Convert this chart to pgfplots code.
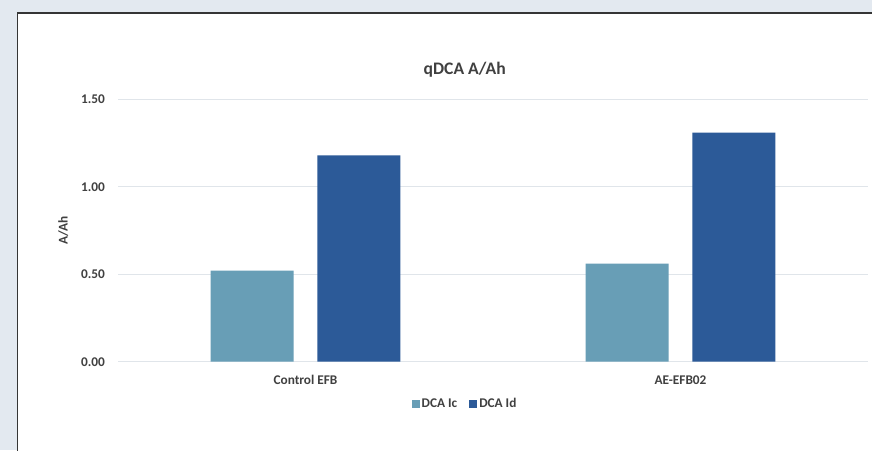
\documentclass[border=0pt]{standalone}
\usepackage{pgfplots}
\pgfplotsset{compat=1.18}
\usepackage{fontspec}
\setmainfont{Carlito}

\definecolor{pagebg}{HTML}{E3E9F0}
\definecolor{frameline}{HTML}{353535}
\definecolor{gridcol}{HTML}{E0E5EA}
\definecolor{txt}{HTML}{404040}
\definecolor{dcaic}{HTML}{689EB6}
\definecolor{dcaid}{HTML}{2C5A98}

\pgfplotstableread{
x  ic    id
0  0.52  1.18
1  0.56  1.31
}\qdca

\begin{document}
\begin{tikzpicture}[x=1pt,y=1pt]
  % page and chart panel
  \clip (0,0) rectangle (872,450);
  \fill[pagebg] (0,0) rectangle (872,450);
  \fill[white] (17.5,-5) rectangle (880,437);
  \draw[frameline, line width=1.5pt] (17.5,-5) -- (17.5,437) -- (880,437);

  \begin{axis}[
    at={(118pt,88.3pt)}, anchor=south west,
    scale only axis,
    width=750pt, height=262.4pt,
    xmin=-0.5, xmax=1.5,
    ymin=0, ymax=1.5,
    axis line style={draw=none},
    ybar=23.6pt, bar width=83pt,
    xtick={0,1},
    xticklabels={Control EFB, AE-EFB02},
    ytick={0,0.5,1,1.5},
    yticklabels={0.00,0.50,1.00,1.50},
    major tick length=0pt,
    ymajorgrids,
    grid style={gridcol, line width=1pt},
    every tick label/.append style={font=\fontsize{13.3}{15}\selectfont\bfseries, text=txt},
    yticklabel style={anchor=east, inner sep=0pt, xshift=-13pt},
    xticklabel style={anchor=base, inner sep=0pt, yshift=-22.8pt},
    title={qDCA A/Ah},
    title style={font=\fontsize{17.6}{20}\selectfont\bfseries, text=txt,
      at={(axis description cs:0.4623,1.09)}, anchor=center},
    ylabel={A/Ah},
    ylabel style={font=\fontsize{13.3}{15}\selectfont\bfseries, text=txt,
      at={(axis description cs:-0.0729,0.5)}, anchor=center},
    legend columns=2,
    legend style={draw=none, fill=none,
      at={(axis description cs:0.4627,-0.161)}, anchor=center,
      font=\fontsize{13.3}{15}\selectfont\bfseries, text=txt,
      /tikz/every even column/.append style={column sep=10pt}},
    legend image code/.code={\fill[#1] (0pt,-4pt) rectangle (8pt,4pt);},
  ]
    \addplot[fill=dcaic, draw=none] table[x=x, y=ic] {\qdca};
    \addplot[fill=dcaid, draw=none] table[x=x, y=id] {\qdca};
    \legend{DCA Ic, DCA Id}
  \end{axis}
\end{tikzpicture}
\end{document}
